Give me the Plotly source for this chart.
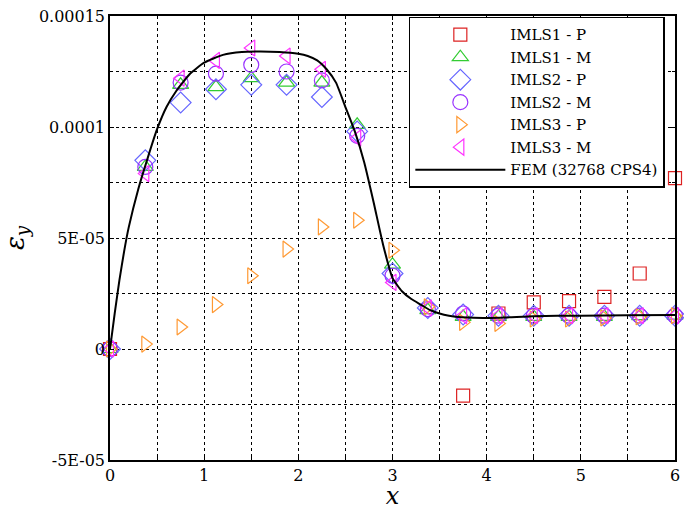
import plotly.graph_objects as go

# ---- data ----
x_nodes = [0, 0.375, 0.75, 1.125, 1.5, 1.875, 2.25, 2.625, 3.0, 3.375, 3.75,
           4.125, 4.5, 4.875, 5.25, 5.625, 6.0]

imls1_p_x = [0, 3.75, 4.125, 4.5, 4.875, 5.25, 5.625, 6.0]
imls1_p_y = [0, -2.1e-5, 1.6e-5, 2.1e-5, 2.16e-5, 2.35e-5, 3.4e-5, 7.7e-5]

imls1_m = [0, 8.2e-5, 1.19e-4, 1.18e-4, 1.22e-4, 1.20e-4, 1.20e-4, 1.01e-4, 3.8e-5,
           1.75e-5, 1.45e-5, 1.45e-5, 1.45e-5, 1.45e-5, 1.45e-5, 1.48e-5, 1.5e-5]
imls2_p = [0, 8.5e-5, 1.11e-4, 1.17e-4, 1.19e-4, 1.19e-4, 1.135e-4, 9.8e-5, 3.4e-5,
           1.85e-5, 1.55e-5, 1.5e-5, 1.5e-5, 1.5e-5, 1.5e-5, 1.5e-5, 1.5e-5]
imls2_m = [0, 8.2e-5, 1.2e-4, 1.24e-4, 1.28e-4, 1.25e-4, 1.21e-4, 9.6e-5, 3.3e-5,
           1.8e-5, 1.6e-5, 1.5e-5, 1.5e-5, 1.5e-5, 1.5e-5, 1.5e-5, 1.5e-5]
imls3_p = [0, 2.2e-6, 9.9e-6, 2.0e-5, 3.3e-5, 4.5e-5, 5.5e-5, 5.8e-5, 4.45e-5,
           1.9e-5, 1.2e-5, 1.15e-5, 1.35e-5, 1.35e-5, 1.4e-5, 1.45e-5, 1.5e-5]
imls3_m = [0, 7.9e-5, 1.22e-4, 1.30e-4, 1.356e-4, 1.32e-4, 1.26e-4, 9.5e-5, 3.0e-5,
           1.85e-5, 1.5e-5, 1.5e-5, 1.5e-5, 1.5e-5, 1.5e-5, 1.5e-5, 1.5e-5]

fem_x = [0, 0.05, 0.1, 0.15, 0.2, 0.3, 0.4, 0.5, 0.6, 0.7, 0.85, 1.0, 1.2, 1.4, 1.6,
         1.8, 2.0, 2.1, 2.2, 2.3, 2.4, 2.5, 2.6, 2.7, 2.8, 2.9, 3.0, 3.1, 3.2, 3.3,
         3.4, 3.5, 3.6, 3.7, 3.8, 4.0, 4.2, 4.5, 5.0, 5.5, 6.0]
fem_y = [0, 1.6e-5, 3.1e-5, 4.4e-5, 5.5e-5, 7.2e-5, 8.6e-5, 9.9e-5, 1.09e-4, 1.16e-4,
         1.24e-4, 1.29e-4, 1.325e-4, 1.338e-4, 1.34e-4, 1.338e-4, 1.33e-4, 1.32e-4,
         1.30e-4, 1.26e-4, 1.20e-4, 1.09e-4, 9.8e-5, 8.4e-5, 6.6e-5, 4.7e-5, 3.2e-5,
         2.6e-5, 2.25e-5, 2.0e-5, 1.75e-5, 1.6e-5, 1.5e-5, 1.44e-5, 1.42e-5, 1.4e-5,
         1.42e-5, 1.48e-5, 1.5e-5, 1.52e-5, 1.53e-5]

y_tickvals = [-5e-5, 0, 5e-5, 1e-4, 1.5e-4]
y_ticktext = ["-5E-05", "0", "5E-05", "0.0001", "0.00015"]
x_tickvals = [0, 1, 2, 3, 4, 5, 6]

FONT = "DejaVu Serif"

fig = go.Figure()

def add_marker(name, xs, ys, symbol, color, size):
    fig.add_trace(go.Scatter(
        x=xs, y=ys, mode="markers", name=name, cliponaxis=False,
        marker=dict(symbol=symbol, size=size, color=color,
                    line=dict(color=color, width=1.2)),
    ))

add_marker("IMLS1 - P", imls1_p_x, imls1_p_y, "square-open", "#dd2222", 13)
add_marker("IMLS1 - M", x_nodes, imls1_m, "triangle-up-open", "#33cc33", 14)
add_marker("IMLS2 - P", x_nodes, imls2_p, "diamond-open", "#6666ff", 16)
add_marker("IMLS2 - M", x_nodes, imls2_m, "circle-open", "#9933ff", 15)
add_marker("IMLS3 - P", x_nodes, imls3_p, "triangle-right-open", "#ff9933", 14)
add_marker("IMLS3 - M", x_nodes, imls3_m, "triangle-left-open", "#ff33ff", 14)

fig.add_trace(go.Scatter(
    x=fem_x, y=fem_y, mode="lines", name="FEM (32768 CPS4)",
    line=dict(color="black", width=2, shape="spline", smoothing=0.5),
))

axis_common = dict(
    showline=True, linecolor="black", linewidth=1.5, mirror="ticks",
    showgrid=True, gridcolor="black", griddash="dot", gridwidth=1,
    zeroline=False, ticks="inside", ticklen=4, tickcolor="black",
    tickfont=dict(family=FONT, size=16, color="black"),
)

fig.update_xaxes(
    range=[0, 6], tickvals=x_tickvals,
    minor=dict(dtick=0.5, showgrid=True, gridcolor="black", griddash="dot",
               ticks="inside", ticklen=3, tickcolor="black"),
    title=dict(text="<i>x</i>", font=dict(family=FONT, size=24, color="black"),
               standoff=4),
    ticklabeloverflow="allow",
    **axis_common,
)
fig.update_yaxes(
    range=[-5e-5, 1.5e-4], tickvals=y_tickvals, ticktext=y_ticktext,
    minor=dict(dtick=2.5e-5, tick0=0, showgrid=True, gridcolor="black",
               griddash="dot", ticks="inside", ticklen=3, tickcolor="black"),
    title=dict(text="<i>ε<sub>y</sub></i>",
               font=dict(family=FONT, size=26, color="black"), standoff=10),
    **axis_common,
)

fig.update_layout(
    width=684, height=510,
    margin=dict(l=110, r=4, t=16, b=50),
    paper_bgcolor="white", plot_bgcolor="white",
    font=dict(family=FONT, color="black"),
    legend=dict(
        x=0.982, y=0.998, xanchor="right", yanchor="top",
        bgcolor="white", bordercolor="black", borderwidth=1.5,
        font=dict(family=FONT, size=15, color="black"),
        itemwidth=90,
    ),
    showlegend=True,
)

fig.write_html(
    "out.html",
    config={"displayModeBar": False},
    post_script="document.body.style.margin='0';document.body.style.padding='0';",
)
